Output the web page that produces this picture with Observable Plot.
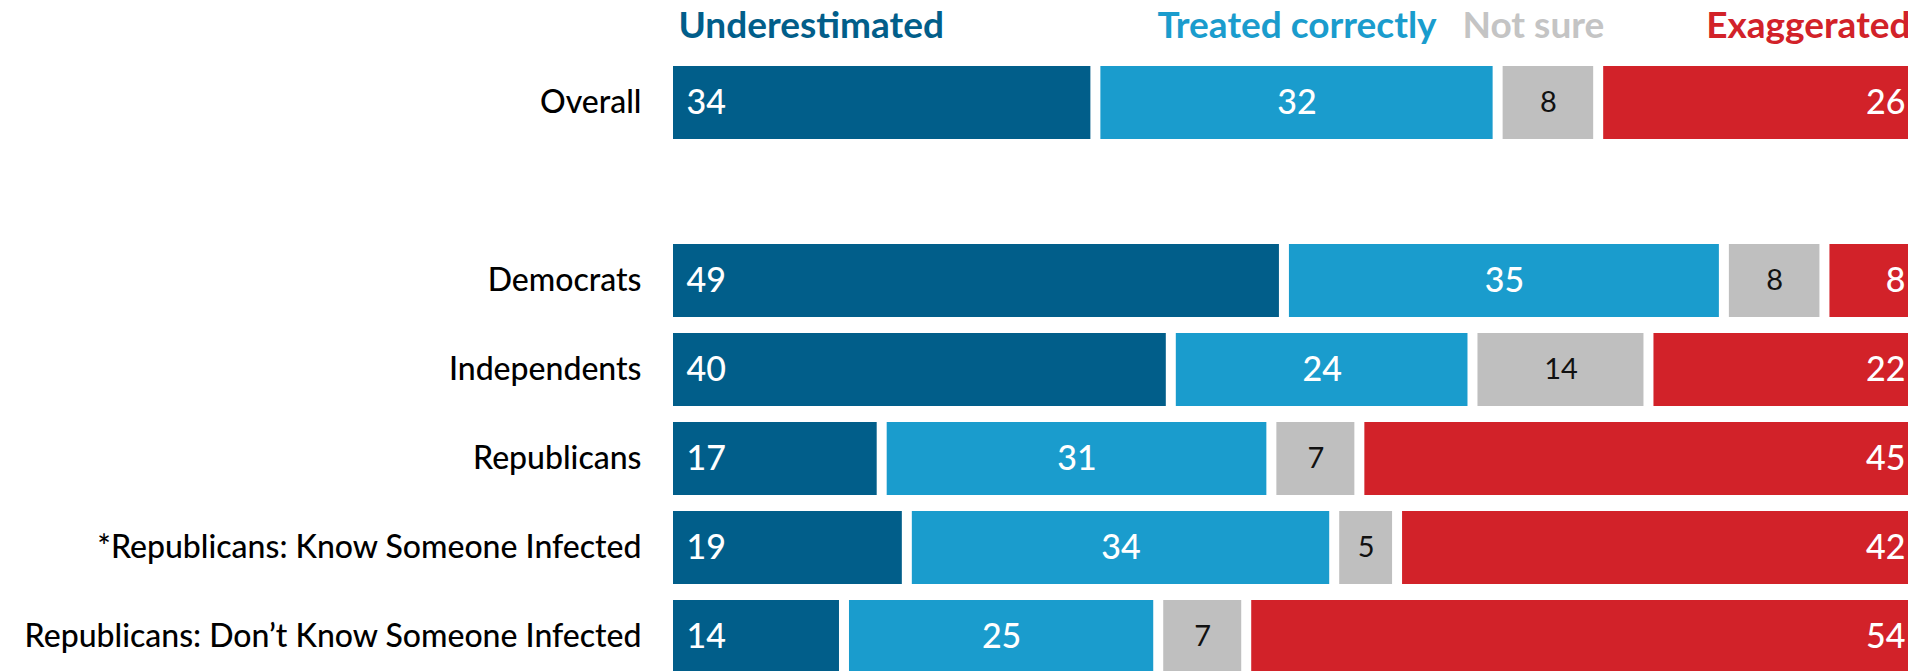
<!DOCTYPE html>
<html>
<head>
<meta charset="utf-8">
<script src="https://cdn.jsdelivr.net/npm/d3@7"></script>
<script src="https://cdn.jsdelivr.net/npm/@observablehq/plot@0.6"></script>
<style>
  html, body { margin: 0; padding: 0; background: white; overflow: hidden; }
  #chart svg { display: block; overflow: hidden; }
</style>
</head>
<body>
<div id="chart"></div>
<script>
// ---- data ----
const groups = [
  "Overall",
  "Democrats",
  "Independents",
  "Republicans",
  "*Republicans: Know Someone Infected",
  "Republicans: Don’t Know Someone Infected"
];
const responses = ["Underestimated", "Treated correctly", "Not sure", "Exaggerated"];
const underestimated   = [34, 49, 40, 17, 19, 14];
const treatedCorrectly = [32, 35, 24, 31, 34, 25];
const notSure          = [8, 8, 14, 7, 5, 7];
const exaggerated      = [26, 8, 22, 45, 42, 54];
const colors = ["#015e8a", "#1a9ccd", "#bfbfbf", "#d22229"];

// ---- build table ----
const series = [underestimated, treatedCorrectly, notSure, exaggerated];
const rows = [];
groups.forEach((g, i) => {
  let start = 0;
  responses.forEach((r, j) => {
    const v = series[j][i];
    rows.push({group: g, response: r, value: v, start, end: start + v, mid: start + v / 2});
    start += v;
  });
});
const spacer = " ";
const yDomain = [groups[0], spacer, ...groups.slice(1)];
const byResp = r => rows.filter(d => d.response === r);
const overallRows = rows.filter(d => d.group === groups[0]);
const head = r => overallRows.filter(d => d.response === r);

const numFont = 34;
const headFont = 37;
const chart = Plot.plot({
  width: 1908,
  height: 671,
  marginLeft: 673,
  marginRight: 0,
  marginTop: 0,
  marginBottom: 0,
  style: {fontFamily: "Lato, 'Noto Sans', sans-serif", background: "white", overflow: "hidden"},
  x: {domain: [0, 100], range: [673, 1930]},
  y: {domain: yDomain, range: [48.2, 689.8], padding: 0.183},
  color: {domain: responses, range: colors},
  marks: [
    Plot.barX(rows, {x1: "start", x2: "end", y: "group", fill: "response", insetRight: 10, clip: true}),
    Plot.axisY({tickSize: 0, tickPadding: 32, fontSize: 32, fontWeight: 500, label: null, tickFormat: d => d.trim()}),
    // value labels
    Plot.text(byResp("Underestimated"), {x: "start", y: "group", text: "value", textAnchor: "start", dx: 13,
      fill: "white", fontSize: numFont, fontWeight: 500, clip: true}),
    Plot.text(byResp("Treated correctly"), {x: "mid", y: "group", text: "value", dx: -5,
      fill: "white", fontSize: numFont, fontWeight: 500, clip: true}),
    Plot.text(byResp("Not sure"), {x: "mid", y: "group", text: "value", dx: -5,
      fill: "#111", fontSize: 29, fontWeight: 400, clip: true}),
    Plot.text(byResp("Exaggerated"), {x: "end", y: "group", text: "value", textAnchor: "end", dx: -25,
      fill: "white", fontSize: numFont, fontWeight: 500, clip: true}),
    // header legend, positioned over the Overall bar segments
    Plot.text(head("Underestimated"), {x: "start", text: "response", frameAnchor: "top",
      lineAnchor: "top", dy: 11, textAnchor: "start", dx: 5, fill: "response", fontSize: headFont, fontWeight: 700}),
    Plot.text(head("Treated correctly"), {x: "mid", text: "response", frameAnchor: "top",
      lineAnchor: "top", dy: 11, dx: -5, fill: "response", fontSize: headFont, fontWeight: 700}),
    Plot.text(head("Not sure"), {x: "mid", text: "response", frameAnchor: "top",
      lineAnchor: "top", dy: 11, dx: -20, fill: "#c4c4c4", fontSize: headFont, fontWeight: 700}),
    Plot.text(head("Exaggerated"), {x: "end", text: "response", frameAnchor: "top",
      lineAnchor: "top", dy: 11, textAnchor: "end", dx: -20, fill: "response", fontSize: headFont, fontWeight: 700})
  ]
});
document.getElementById("chart").appendChild(chart);
</script>
</body>
</html>
